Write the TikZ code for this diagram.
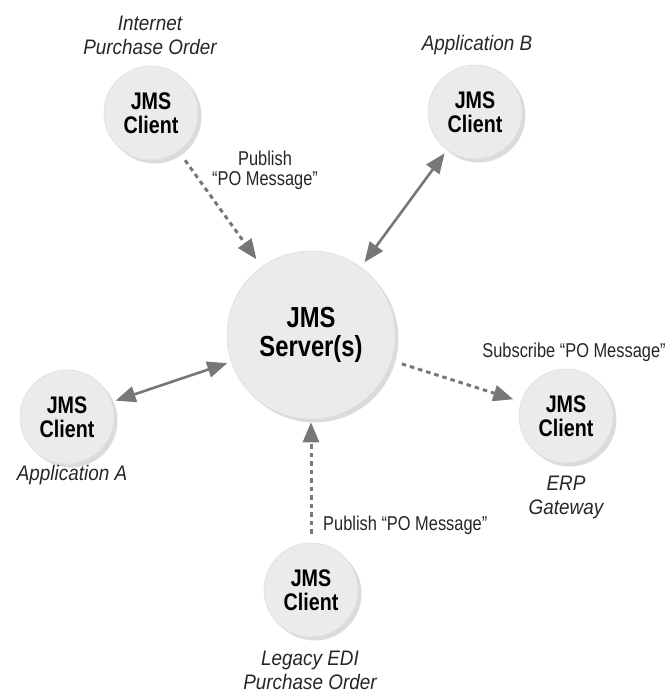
\documentclass[tikz,border=0pt]{standalone}
\usepackage{fontspec}
\usetikzlibrary{arrows.meta,shadows}
\newfontfamily\fcond[FakeStretch=0.82,Ligatures=TeX]{Liberation Sans}
\newfontfamily\fital[FakeStretch=0.9,Ligatures=TeX]{Liberation Sans}
\definecolor{arrowgray}{HTML}{777777}
\definecolor{discfill}{HTML}{EBEBEB}
\begin{document}
\begin{tikzpicture}[x=1pt,y=-1pt,
  disc/.style={circle, inner sep=0pt, fill=discfill, draw=black!13, line width=0.6pt,
    drop shadow={shadow xshift=3.5pt, shadow yshift=-3.5pt, fill=black!28},
    align=center, text=black},
  client/.style={disc, minimum size=94pt, font=\fcond\bfseries\fontsize{24}{24}\selectfont},
  server/.style={disc, minimum size=168pt, font=\fcond\bfseries\fontsize{29}{29}\selectfont},
  itlabel/.style={inner sep=0pt, align=center, text=black!85, font=\fital\itshape\fontsize{21}{24}\selectfont},
  msglabel/.style={inner sep=0pt, align=center, text=black!85, font=\fcond\fontsize{20}{20}\selectfont},
  twoway/.style={draw=arrowgray, line width=2.6pt, {Triangle[length=20pt,width=16pt]}-{Triangle[length=20pt,width=16pt]}},
  oneway/.style={draw=arrowgray, line width=3pt, dash pattern=on 4.5pt off 4pt, -{Triangle[length=20pt,width=16pt]}}
]
\useasboundingbox (0,0) rectangle (670,693);

% nodes
\node[server] (server) at (311,335) {JMS\\Server(s)};
\node[client] (inet) at (151,113) {JMS\\Client};
\node[client] (appb) at (475,112) {JMS\\Client};
\node[client] (appa) at (67,417) {JMS\\Client};
\node[client] (erp) at (566,416) {JMS\\Client};
\node[client] (legacy) at (311,590) {JMS\\Client};

% labels
\node[itlabel] (linet) at (150,35) {Internet\\Purchase Order};
\node[itlabel] (lappb) at (477,45) {Application B};
\node[itlabel] (lappa) at (72,475) {Application A};
\node[itlabel] (lerp) at (566,497) {ERP\\Gateway};
\node[itlabel] (llegacy) at (310,670) {Legacy EDI\\Purchase Order};

\node[msglabel] (mpub1) at (265,170) {Publish\\“PO Message”};
\node[msglabel] (msub) at (574,352) {Subscribe “PO Message”};
\node[msglabel, anchor=west] (mpub2) at (323,525) {Publish “PO Message”};

% connectors
\draw[oneway, shorten <=11pt, shorten >=9pt] (inet) -- (server);
\draw[twoway, shorten <=4pt, shorten >=6pt] (appb) -- (server);
\draw[twoway, shorten <=4pt, shorten >=4pt] (appa) -- (server);
\draw[oneway, shorten <=11pt, shorten >=8pt] (server) -- (erp);
\draw[oneway, shorten <=9pt, shorten >=3pt] (legacy) -- (server);
\end{tikzpicture}
\end{document}
